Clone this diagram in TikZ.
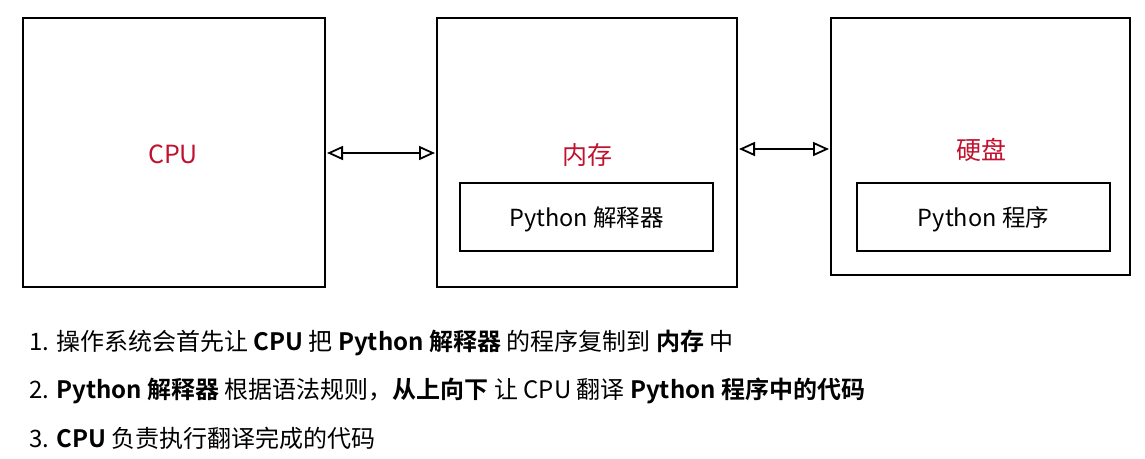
\documentclass[tikz,border=0pt]{standalone}
\usepackage{fontspec}
\setmainfont{Noto Sans CJK SC}[BoldFont={Noto Sans CJK SC Bold}]
\usetikzlibrary{arrows.meta}
\definecolor{lblred}{HTML}{C0112E}
\begin{document}
\begin{tikzpicture}[x=1pt,y=-1pt,
  box/.style={draw,line width=1.8pt},
  lbl/.style={text=lblred,font=\fontsize{25}{28}\selectfont},
  txt/.style={font=\fontsize{23.5}{28}\selectfont},
  link/.style={line width=1.5pt,{Triangle[open,length=16pt,width=14pt,line width=1.8pt]}-{Triangle[open,length=16pt,width=14pt,line width=1.8pt]}},
  item/.style={anchor=west,font=\fontsize{24}{28}\selectfont,inner sep=0pt}]
\useasboundingbox (0,0) rectangle (1145,458);
\draw[box] (23,18) rectangle (325,287);
\draw[box] (437,18) rectangle (737,287);
\draw[box] (831,18) rectangle (1130,275);
\node[box,minimum width=253pt,minimum height=68pt] (interp) at (586.5,217) {};
\node[box,minimum width=253pt,minimum height=68pt] (prog) at (983.5,217) {};
\node[txt] at ([yshift=-2pt]interp.center) {Python 解释器};
\node[txt] at ([yshift=-2pt]prog.center) {Python 程序};
\node[lbl] (cpu) at (173,154) {CPU};
\node[lbl] (mem) at (587,155) {内存};
\node[lbl] (disk) at (981,150) {硬盘};
\coordinate (a1) at (327,153);
\coordinate (a2) at (435,153);
\coordinate (b1) at (739,149);
\coordinate (b2) at (829,149);
\draw[link] (a1) -- (a2);
\draw[link] (b1) -- (b2);
\node[item] (l1) at (29,343) {1. 操作系统会首先让 \textbf{CPU} 把 \textbf{Python 解释器} 的程序复制到 \textbf{内存} 中};
\node[item] (l2) at (29,391) {2. \textbf{Python 解释器} 根据语法规则，\textbf{从上向下} 让 CPU 翻译 \textbf{Python 程序中的代码}};
\node[item] (l3) at (29,438) {3. \textbf{CPU} 负责执行翻译完成的代码};
\end{tikzpicture}
\end{document}
